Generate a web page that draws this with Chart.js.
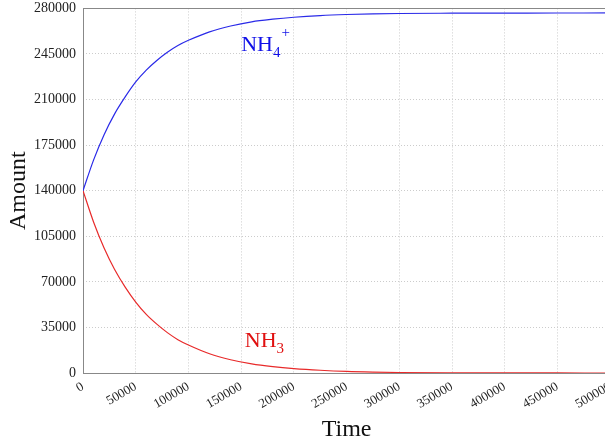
<!DOCTYPE html>
<html>
<head>
<meta charset="utf-8">
<script src="https://cdn.jsdelivr.net/npm/chart.js@4"></script>
<style>
  html, body { margin: 0; padding: 0; overflow: hidden; background: #fff; }
  #chart { display: block; margin-top: -7px; }
</style>
</head>
<body>
<canvas id="chart" width="624" height="449"></canvas>
<script>
// 読み取った値（時間ごとの量）
const time = [0, 10000, 20000, 30000, 40000, 50000, 60000, 70000, 80000, 90000,
  100000, 120000, 140000, 160000, 180000, 200000, 225000, 250000, 275000, 300000,
  350000, 400000, 450000, 500000];
const nh3 = [140000, 116000, 96000, 79500, 66000, 54500, 45000, 37500, 31000, 25600,
  21500, 14800, 10200, 7000, 4900, 3400, 2100, 1200, 700, 400,
  150, 50, 20, 10];
const nh4 = [140000, 163500, 183000, 199000, 212000, 223500, 232600, 240000, 246300, 251500,
  255500, 262000, 266500, 269700, 271700, 273200, 274500, 275300, 275800, 276100,
  276300, 276400, 276450, 276500];

const xMax = 500000, xStep = 50000;
const yMax = 280000, yStep = 35000;

const serif = "'Liberation Serif', 'DejaVu Serif', serif";
const gridStyle = { color: "#cccccc", lineWidth: 1, drawTicks: false };

// 枠線（プロット領域の四辺）
const frame = {
  id: "frame",
  beforeDatasetsDraw(chart) {
    const { ctx, chartArea: a } = chart;
    ctx.save();
    ctx.strokeStyle = "#888";
    ctx.lineWidth = 1;
    ctx.strokeRect(Math.round(a.left) + 0.5, Math.round(a.top) + 0.5,
      Math.round(a.right - a.left), Math.round(a.bottom - a.top));
    ctx.restore();
  },
};

// 化学式ラベル（下付き・上付き付き）
function drawFormula(ctx, x, y, base, sub, sup, color) {
  ctx.fillStyle = color;
  ctx.textBaseline = "alphabetic";
  ctx.textAlign = "left";
  ctx.font = `22px ${serif}`;
  ctx.fillText(base, x, y);
  const w = ctx.measureText(base).width;
  ctx.font = `15px ${serif}`;
  ctx.fillText(sub, x + w, y + 6);
  const ws = ctx.measureText(sub).width;
  if (sup) ctx.fillText(sup, x + w + ws + 1, y - 14);
}

const formulaLabels = {
  id: "formulaLabels",
  afterDatasetsDraw(chart) {
    const { ctx, scales: { x, y } } = chart;
    ctx.save();
    drawFormula(ctx, x.getPixelForValue(150000), y.getPixelForValue(247400), "NH", "4", "+", "#1010e8");
    drawFormula(ctx, x.getPixelForValue(153400), y.getPixelForValue(20000), "NH", "3", "", "#e01010");
    ctx.restore();
  },
};

new Chart(document.getElementById("chart"), {
  type: "line",
  data: {
    datasets: [
      {
        label: "NH4+",
        data: time.map((t, i) => ({ x: t, y: nh4[i] })),
        borderColor: "#2a2ae8",
        borderWidth: 1.2,
        pointRadius: 0,
        cubicInterpolationMode: "monotone",
      },
      {
        label: "NH3",
        data: time.map((t, i) => ({ x: t, y: nh3[i] })),
        borderColor: "#e82a2a",
        borderWidth: 1.2,
        pointRadius: 0,
        cubicInterpolationMode: "monotone",
      },
    ],
  },
  options: {
    responsive: false,
    animation: false,
    layout: { padding: { top: 1, right: 0, left: 0, bottom: 0 } },
    scales: {
      x: {
        type: "linear",
        min: 0,
        max: xMax,
        grid: gridStyle,
        border: { display: false, dash: [1, 2] },
        ticks: {
          stepSize: xStep,
          minRotation: 30,
          maxRotation: 30,
          padding: 6,
          color: "#222",
          font: { family: serif, size: 13 },
          callback: (v) => String(v),
        },
        title: {
          display: true,
          text: "Time",
          color: "#111",
          font: { family: serif, size: 24 },
          padding: { top: 0, bottom: -2 },
        },
        afterFit: (s) => { s.height = 69; },
      },
      y: {
        min: 0,
        max: yMax,
        grid: gridStyle,
        border: { display: false, dash: [1, 2] },
        ticks: {
          stepSize: yStep,
          padding: 7,
          color: "#222",
          font: { family: serif, size: 14 },
          callback: (v) => String(v),
        },
        title: {
          display: true,
          text: "Amount",
          color: "#111",
          font: { family: serif, size: 24 },
          padding: { top: 4, bottom: 0 },
        },
        afterFit: (s) => { s.width = 83; },
      },
    },
    plugins: {
      legend: { display: false },
      tooltip: { enabled: false },
    },
  },
  plugins: [frame, formulaLabels],
});
</script>
</body>
</html>
